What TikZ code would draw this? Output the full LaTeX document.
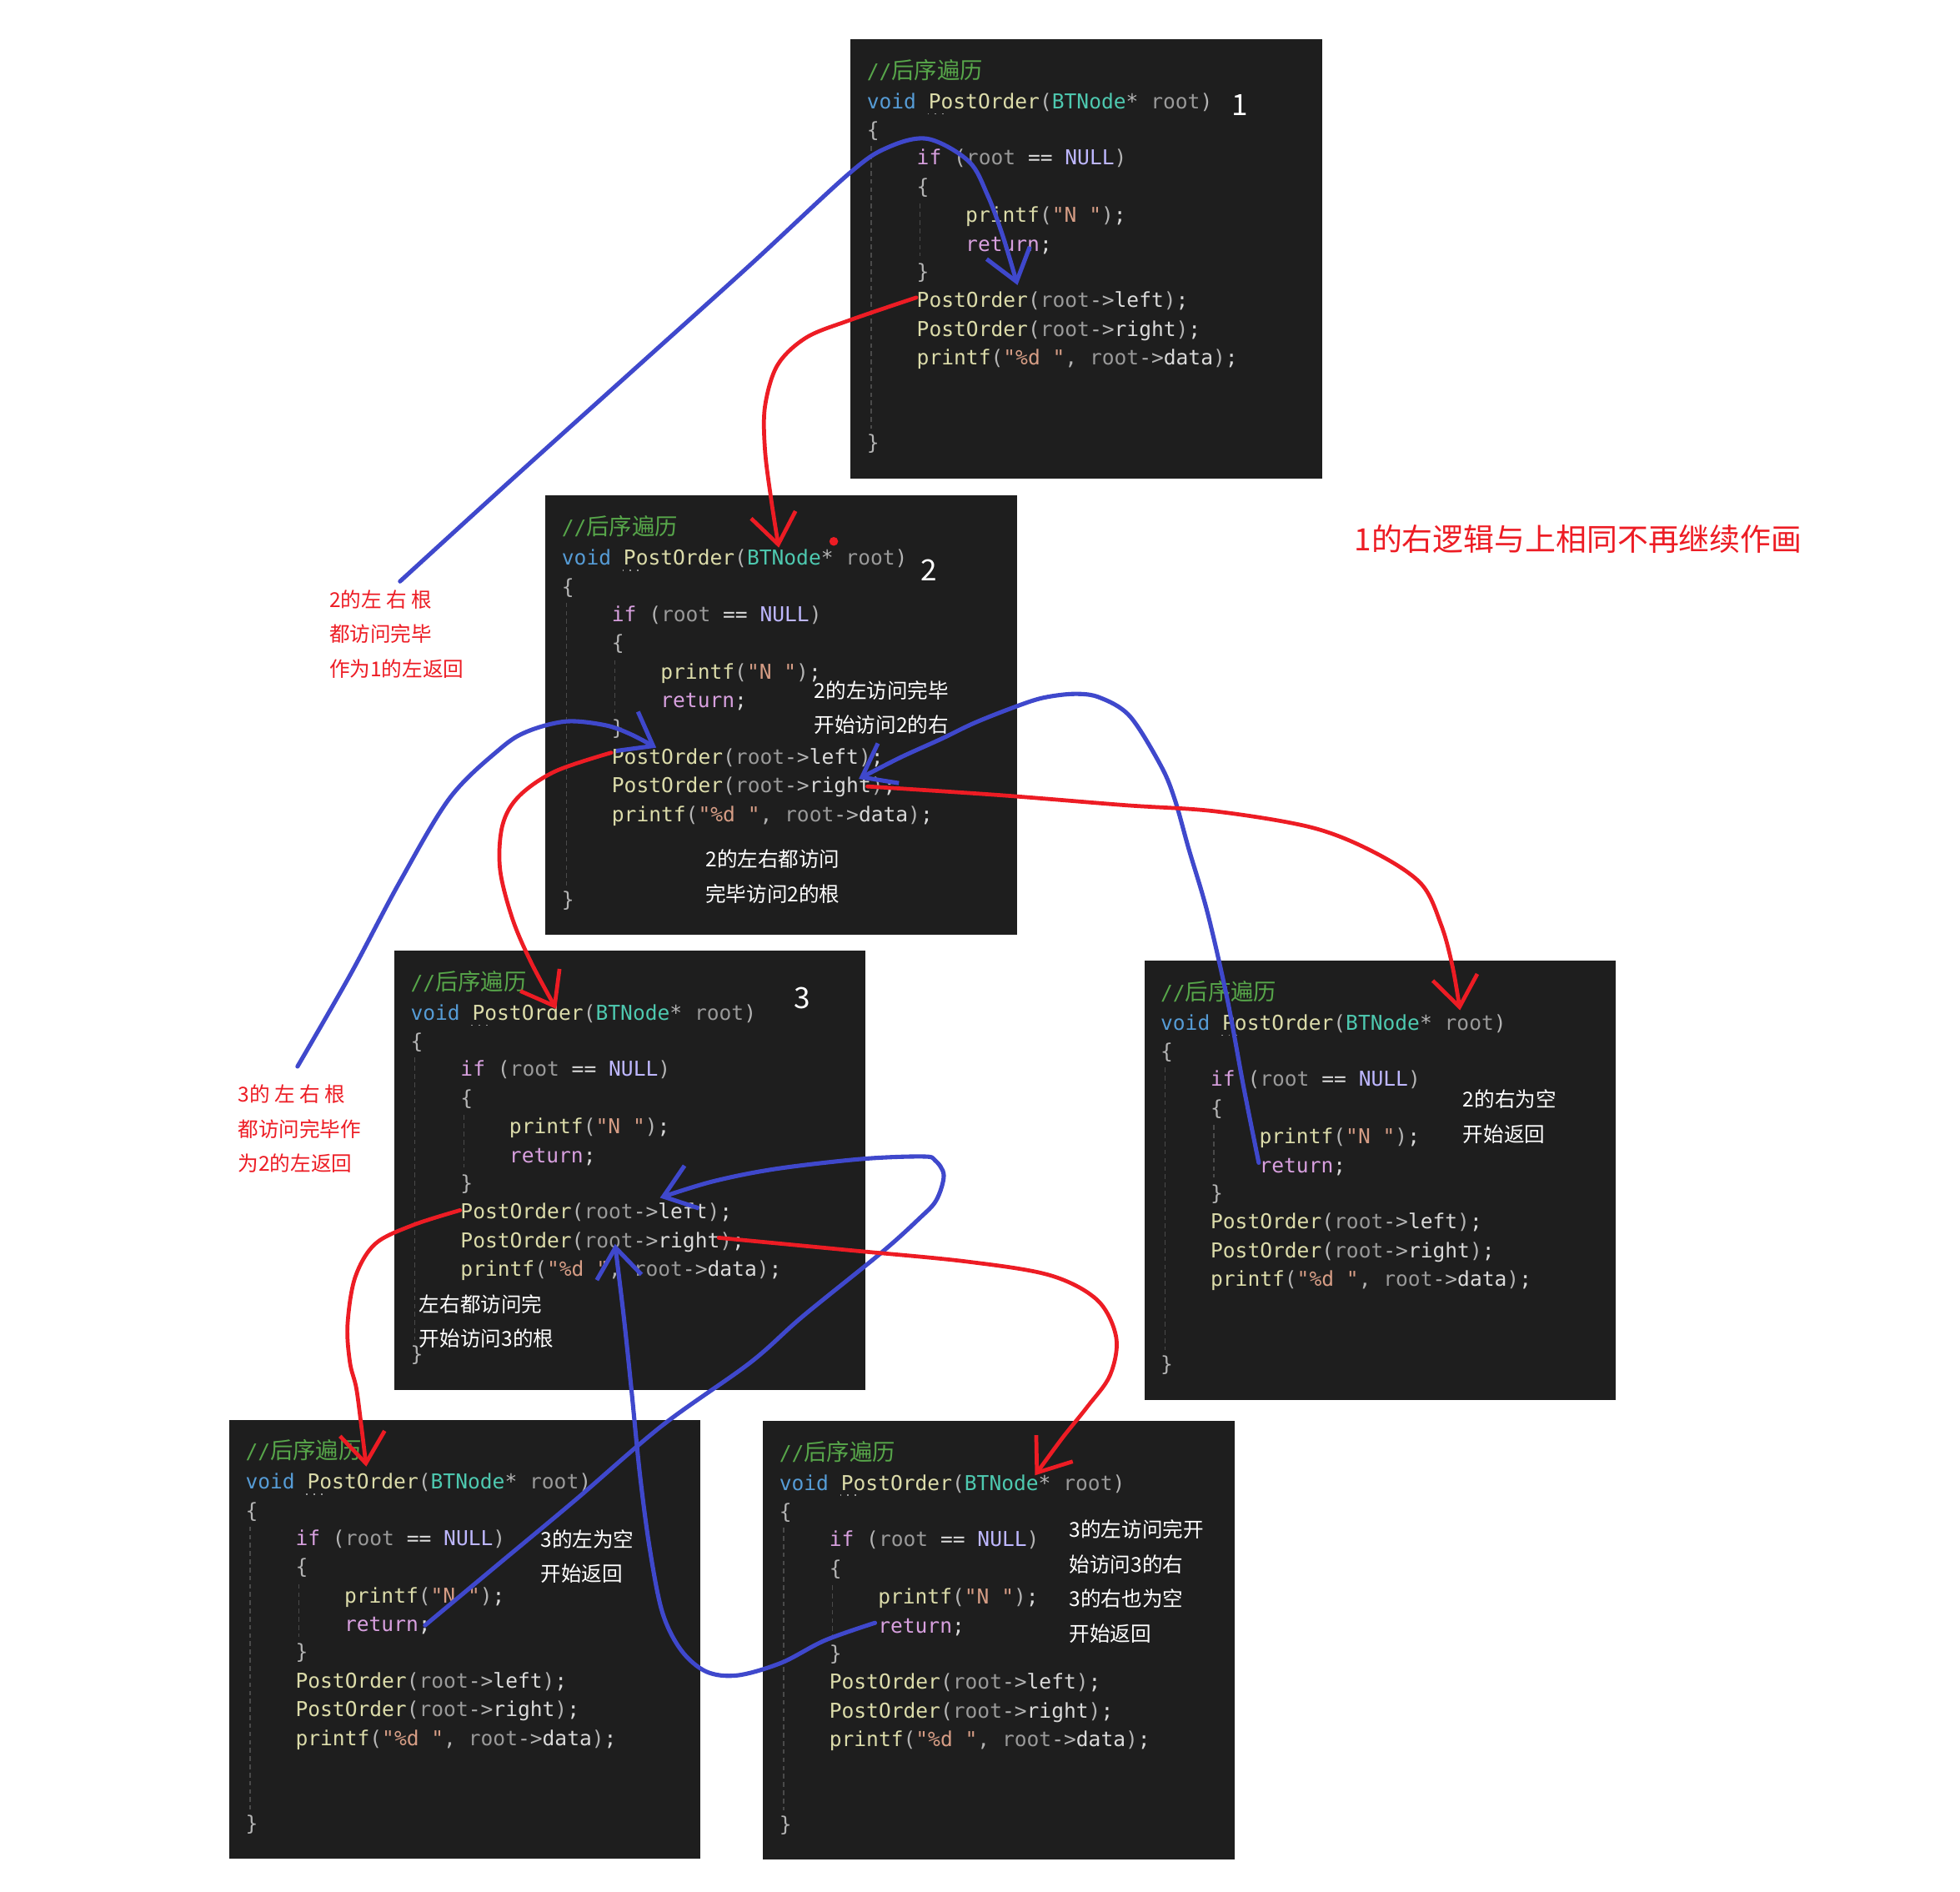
\documentclass[tikz,border=0pt]{standalone}
\usepackage{fontspec}
\setmonofont{DejaVu Sans Mono}
\newfontfamily\cjk{Noto Sans CJK SC}
\usepackage{tikz}
\usetikzlibrary{arrows.meta}
\definecolor{codebg}{HTML}{1E1E1E}
\definecolor{cdef}{HTML}{B4B4B4}
\definecolor{ckw}{HTML}{569CD6}
\definecolor{cfn}{HTML}{DCDCAA}
\definecolor{cty}{HTML}{4EC9B0}
\definecolor{cpar}{HTML}{9A9A9A}
\definecolor{cctl}{HTML}{D8A0DF}
\definecolor{cmac}{HTML}{BEB7FF}
\definecolor{cstr}{HTML}{D69D85}
\definecolor{cmem}{HTML}{DADADA}
\definecolor{ccm}{HTML}{57A64A}
\definecolor{cguide}{HTML}{4A4A4A}
\definecolor{penred}{HTML}{ED1C24}
\definecolor{penblue}{HTML}{3F48CC}
\tikzset{
    %Define standard arrow tip
    >={Straight Barb[length=3.6mm,width=5.4mm]},
    %Define style for code panels
    panel/.style={
           rectangle,
           fill=codebg,
           inner sep=0pt,
           minimum width=5.655cm,
           minimum height=5.265cm},
    codeline/.style={
           anchor=base west,
           inner sep=0pt,
           text=cdef,
           font=\fontsize{7}{9}\selectfont\ttfamily},
    guide/.style={draw=cguide, line width=0.4pt, dash pattern=on 1.6pt off 1.2pt},
    % Define note styles
    note/.style={anchor=west, inner sep=0pt, align=left,
           font=\fontsize{7}{11.8}\selectfont\cjk},
    rednote/.style={note, text=penred},
    whitenote/.style={note, text=white},
    bignote/.style={anchor=west, inner sep=0pt, text=penred,
           font=\fontsize{10.5}{12}\selectfont\cjk},
    numlabel/.style={inner sep=0pt, text=white,
           font=\fontsize{10}{12}\selectfont\cjk},
    % Define pen styles
    redpen/.style={->, draw=penred, line width=1.35pt, line cap=round, line join=round},
    bluepen/.style={->, draw=penblue, line width=1.45pt, line cap=round, line join=round}
}
% one code panel: name, x, y
\newcommand\codebox[3]{%
  \node[panel, anchor=north west] (#1) at (#2,#3) {};
  \begin{scope}[shift={(#2,#3)}]
    \draw[guide] (17,86) -- (17,312);
    \draw[guide] (56,132) -- (56,174);
    \draw[cpar, dotted, line width=0.5pt] (62,60) -- (79,60);
    \node[codeline] (#1-l1) at (13,32) {\textcolor{ccm}{//{\fontsize{7.8}{9}\selectfont\cjk 后序遍历}}};
    \node[codeline] (#1-l2) at (13,56) {\textcolor{ckw}{void} \textcolor{cfn}{PostOrder}(\textcolor{cty}{BTNode}* \textcolor{cpar}{root})};
    \node[codeline] (#1-l3) at (13,79) {\{};
    \node[codeline] (#1-l4) at (53,101) {\textcolor{cctl}{if} (\textcolor{cpar}{root} \textcolor{cmem}{==} \textcolor{cmac}{NULL})};
    \node[codeline] (#1-l5) at (53,124) {\{};
    \node[codeline] (#1-l6) at (92,147) {\textcolor{cfn}{printf}(\textcolor{cstr}{"N "})\textcolor{cmem}{;}};
    \node[codeline] (#1-l7) at (92,170) {\textcolor{cctl}{return}\textcolor{cmem}{;}};
    \node[codeline] (#1-l8) at (53,192) {\}};
    \node[codeline] (#1-l9) at (53,215) {\textcolor{cfn}{PostOrder}(\textcolor{cpar}{root}->\textcolor{cmem}{left})\textcolor{cmem}{;}};
    \node[codeline] (#1-l10) at (53,238) {\textcolor{cfn}{PostOrder}(\textcolor{cpar}{root}->\textcolor{cmem}{right})\textcolor{cmem}{;}};
    \node[codeline] (#1-l11) at (53,261) {\textcolor{cfn}{printf}(\textcolor{cstr}{"\%d "}, \textcolor{cpar}{root}->\textcolor{cmem}{data})\textcolor{cmem}{;}};
    \node[codeline] (#1-l12) at (13,329) {\}};
  \end{scope}}

\begin{document}
\begin{tikzpicture}[x=0.015cm, y=-0.015cm]
\fill[white] (0,0) rectangle (1568,1513);
\useasboundingbox (0,0) rectangle (1568,1513);

% code panels
\codebox{box1}{680}{31}
\codebox{box2}{436}{396}
\codebox{box3}{315}{760}
\codebox{box4}{915}{768}
\codebox{box5}{183}{1135}
\codebox{box6}{610}{1136}

\node[numlabel] (n1) at (992,84) {1};
\node[numlabel] (n2) at (743,456) {2};
\node[numlabel] (n3) at (642,798) {3};

% notes
\node[bignote] (same) at (1083,431) {1的右逻辑与上相同不再继续作画};
\node[rednote] (ret2) at (263,507) {2的左 右 根\\都访问完毕\\作为1的左返回};
\node[rednote] (ret3) at (190,903) {3的 左 右 根\\都访问完毕作\\为2的左返回};
\node[whitenote] (go2r) at (651,566) {2的左访问完毕\\开始访问2的右};
\node[whitenote] (root2) at (564,701) {2的左右都访问\\完毕访问2的根};
\node[whitenote] (null4) at (1170,893) {2的右为空\\开始返回};
\node[whitenote] (root3) at (335,1057) {左右都访问完\\开始访问3的根};
\node[whitenote] (null5) at (432,1245) {3的左为空\\开始返回};
\node[whitenote] (null6) at (855,1265) {3的左访问完开\\始访问3的右\\3的右也为空\\开始返回};

% pen strokes
\coordinate (b1s) at (320,465);  \coordinate (b1e) at (814,228);
\coordinate (r1s) at (733,238);  \coordinate (r1e) at (623,438);
\coordinate (b2s) at (238,853);  \coordinate (b2e) at (525,598);
\coordinate (r2s) at (489,602);  \coordinate (r2e) at (445,807);
\coordinate (b3s) at (1007,930); \coordinate (b3e) at (687,623);
\coordinate (r3s) at (694,629);  \coordinate (r3e) at (1168,808);
\coordinate (b4s) at (340,1300); \coordinate (b4e) at (528,958);
\coordinate (r4s) at (368,968);  \coordinate (r4e) at (293,1173);
\coordinate (b5s) at (700,1298); \coordinate (b5e) at (492,995);
\coordinate (r5s) at (575,990);  \coordinate (r5e) at (828,1180);

\draw[bluepen] plot[smooth, tension=0.55] coordinates {(b1s) (410,383) (500,302) (600,212) (679,139) (710,118) (742,111) (775,129) (790,156) (802,188) (b1e)};
\draw[redpen] plot[smooth, tension=0.55] coordinates {(r1s) (680,256) (645,270) (622,292) (612,325) (612,360) (617,400) (r1e)};
\draw[bluepen] plot[smooth, tension=0.55] coordinates {(b2s) (280,780) (320,705) (360,638) (400,599) (422,585) (453,577) (484,580) (504,587) (b2e)};
\draw[redpen] plot[smooth, tension=0.55] coordinates {(r2s) (444,617) (415,637) (402,660) (400,695) (410,735) (425,770) (r2e)};
\draw[bluepen] plot[smooth, tension=0.55] coordinates {(b3s) (995,870) (982,800) (966,730) (951,679) (940,640) (929,613) (904,573) (880,558) (860,555) (835,558) (813,565) (780,578) (753,591) (720,606) (b3e)};
\draw[redpen] plot[smooth, tension=0.55] coordinates {(r3s) (800,636) (900,644) (973,649) (1050,662) (1100,682) (1137,707) (1153,740) (1162,773) (r3e)};
\draw[bluepen] plot[smooth, tension=0.55] coordinates {(b4s) (400,1250) (460,1200) (530,1140) (600,1090) (642,1053) (705,1002) (735,975) (749,960) (755,940) (748,928) (738,925) (689,927) (620,935) (570,945) (b4e)};
\draw[redpen] plot[smooth, tension=0.55] coordinates {(r4s) (330,980) (300,995) (284,1022) (278,1060) (280,1090) (285,1110) (289,1140) (r4e)};
\draw[bluepen] plot[smooth, tension=0.55] coordinates {(b5s) (660,1312) (625,1330) (590,1340) (565,1337) (545,1320) (530,1290) (520,1240) (512,1180) (505,1110) (499,1053) (b5e)};
\draw[redpen] plot[smooth, tension=0.55] coordinates {(r5s) (680,1000) (773,1009) (840,1020) (878,1040) (893,1070) (888,1100) (870,1125) (850,1150) (r5e)};
\fill[penred] (667,433) circle[radius=1.5pt];
\end{tikzpicture}
\end{document}
